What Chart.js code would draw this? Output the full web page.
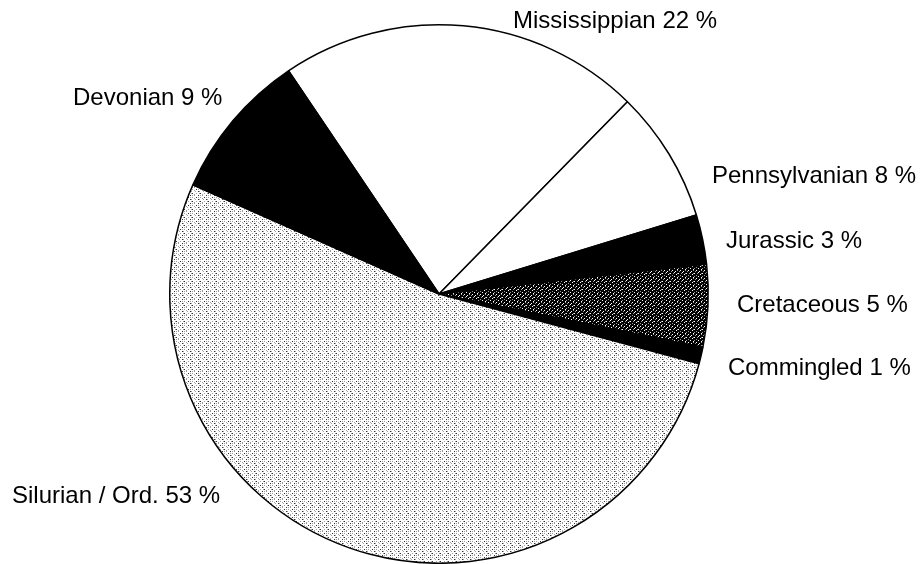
<!DOCTYPE html>
<html>
<head>
<meta charset="utf-8">
<script src="https://cdn.jsdelivr.net/npm/chart.js@4.4.1/dist/chart.umd.min.js"></script>
<style>
  html, body { margin: 0; padding: 0; background: #fff; }
  #wrap { width: 920px; height: 564px; position: relative; }
</style>
</head>
<body>
<div id="wrap"><canvas id="pie-chart"></canvas></div>
<script>
// slice data, clockwise starting from Mississippian
const periods = ["Mississippian", "Pennsylvanian", "Jurassic", "Cretaceous", "Commingled", "Silurian / Ord.", "Devonian"];
const percents = [22, 8, 3, 5, 1, 53, 9];

// where each label text sits (left x, baseline y)
const labelSpots = [
  [513, 28], [712, 183], [726, 248], [737, 312], [728, 375], [12, 503], [73, 105]
];

// little stipple tiles like the scanned print
function stipple(rows, colors) {
  const c = document.createElement("canvas");
  c.width = rows[0].length;
  c.height = rows.length;
  const ctx = c.getContext("2d");
  for (let y = 0; y < rows.length; y++) {
    for (let x = 0; x < rows[y].length; x++) {
      ctx.fillStyle = colors[rows[y][x]];
      ctx.fillRect(x, y, 1, 1);
    }
  }
  return ctx.createPattern(c, "repeat");
}

const lightDots = stipple([
  "........",
  "#...+..+",
  "..+.....",
  "+.+...#.",
  "........",
  "+...#.+.",
  "..+.....",
  "...+..#+"
], { ".": "#ffffff", "#": "#333333", "+": "#a0a0a0" });

const darkDots = stipple([
  "##o#####",
  "#+###+o#",
  "####o###",
  "+#######",
  "##o###+#",
  "#####o##",
  "o####+##",
  "###o###+"
], { "#": "#000000", "o": "#ffffff", "+": "#999999" });

const fills = ["#ffffff", "#ffffff", "#000000", darkDots, "#000000", lightDots, "#000000"];

const labelPlugin = {
  id: "sliceLabels",
  afterDraw(chart) {
    const ctx = chart.ctx;
    ctx.save();
    ctx.font = "24px 'Liberation Sans', Arial, sans-serif";
    ctx.fillStyle = "#000";
    ctx.textAlign = "left";
    ctx.textBaseline = "alphabetic";
    for (let i = 0; i < periods.length; i++) {
      ctx.fillText(periods[i] + " " + percents[i] + " %", labelSpots[i][0], labelSpots[i][1]);
    }
    ctx.restore();
  }
};

new Chart(document.getElementById("pie-chart"), {
  type: "pie",
  data: {
    labels: periods,
    datasets: [
      {
        data: percents,
        backgroundColor: fills,
        borderColor: "#000000",
        borderWidth: 1.5
      }
    ]
  },
  options: {
    responsive: true,
    maintainAspectRatio: false,
    animation: false,
    rotation: -34,
    layout: { padding: { top: 24, bottom: 0, left: 0, right: 42 } },
    plugins: {
      legend: { display: false },
      tooltip: { enabled: false }
    }
  },
  plugins: [labelPlugin]
});
</script>
</body>
</html>
